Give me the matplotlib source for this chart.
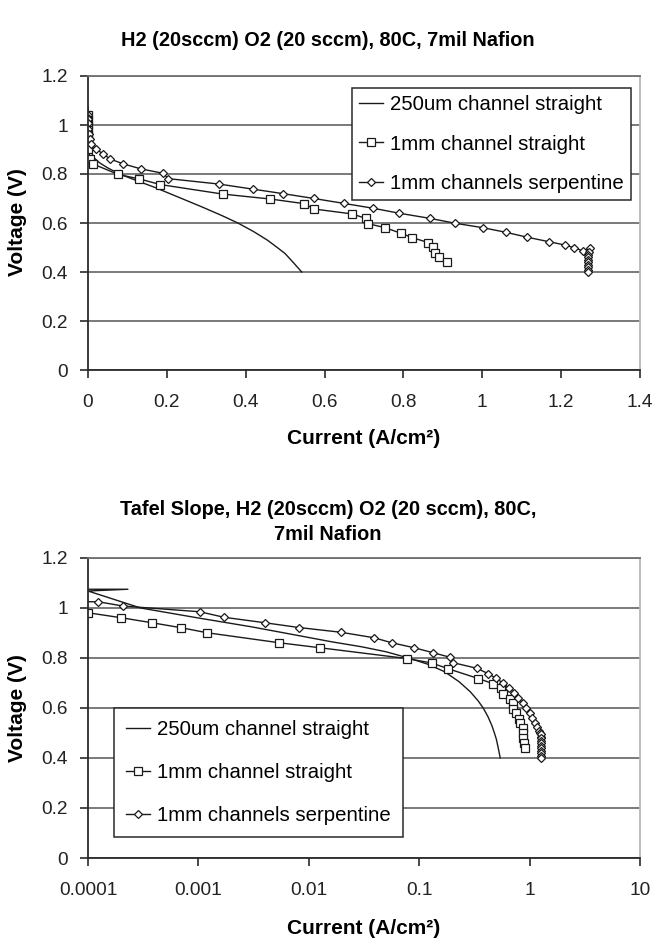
import matplotlib
matplotlib.use("Agg")
import matplotlib.pyplot as plt
from matplotlib.ticker import FixedLocator, FixedFormatter, NullLocator

plt.rcParams['font.family'] = ['Liberation Sans', 'DejaVu Sans']

# ---------------- data ----------------
# 250um channel straight (current A/cm2, voltage V)
i_250 = [0.0, 0.00023, 0.0001, 0.0003, 0.001, 0.003, 0.008, 0.016, 0.03, 0.05,
         0.08, 0.12, 0.17, 0.23, 0.29, 0.34, 0.38, 0.42, 0.455, 0.48, 0.50, 0.52, 0.542]
v_250 = [1.075, 1.075, 1.068, 1.0, 0.96, 0.925, 0.89, 0.865, 0.845, 0.825,
         0.80, 0.775, 0.745, 0.705, 0.665, 0.63, 0.60, 0.565, 0.53, 0.50, 0.475, 0.44, 0.40]

# 1mm channel straight
i_1mm = [0.0, 0.0, 0.0, 0.0001, 0.0002, 0.00038, 0.0007, 0.0012, 0.0054, 0.0126,
         0.077, 0.13, 0.183, 0.342, 0.462, 0.548, 0.574, 0.67, 0.704, 0.711,
         0.753, 0.794, 0.823, 0.863, 0.876, 0.880, 0.891, 0.910]
v_1mm = [1.04, 1.02, 1.0, 0.981, 0.961, 0.941, 0.921, 0.901, 0.861, 0.841,
         0.798, 0.78, 0.757, 0.718, 0.698, 0.679, 0.657, 0.637, 0.619, 0.597,
         0.581, 0.558, 0.540, 0.520, 0.501, 0.479, 0.460, 0.440]

# 1mm channels serpentine
i_serp = [0.0, 0.0, 0.000124, 0.000206, 0.00103, 0.0017, 0.004, 0.0081, 0.0195, 0.039,
          0.0563, 0.09, 0.134, 0.19, 0.204, 0.332, 0.419, 0.494, 0.573, 0.649,
          0.724, 0.789, 0.867, 0.931, 1.001, 1.060, 1.114, 1.168, 1.210, 1.233,
          1.256, 1.273, 1.270, 1.269, 1.268, 1.268, 1.267, 1.267, 1.267, 1.267, 1.267]
v_serp = [1.04, 1.03, 1.025, 1.008, 0.985, 0.963, 0.941, 0.922, 0.903, 0.881,
          0.861, 0.841, 0.821, 0.803, 0.781, 0.759, 0.738, 0.720, 0.700, 0.680,
          0.660, 0.640, 0.619, 0.599, 0.581, 0.562, 0.542, 0.524, 0.510, 0.499,
          0.486, 0.497, 0.48, 0.47, 0.46, 0.45, 0.44, 0.43, 0.42, 0.41, 0.40]

series_labels = ["250um channel straight", "1mm channel straight", "1mm channels serpentine"]

y_ticks = [0, 0.2, 0.4, 0.6, 0.8, 1.0, 1.2]
y_tick_labels = ["0", "0.2", "0.4", "0.6", "0.8", "1", "1.2"]
x_ticks_lin = [0, 0.2, 0.4, 0.6, 0.8, 1.0, 1.2, 1.4]
x_tick_labels_lin = ["0", "0.2", "0.4", "0.6", "0.8", "1", "1.2", "1.4"]
x_ticks_log = [0.0001, 0.001, 0.01, 0.1, 1, 10]
x_tick_labels_log = ["0.0001", "0.001", "0.01", "0.1", "1", "10"]

title_top = "H2 (20sccm) O2 (20 sccm), 80C, 7mil Nafion"
title_bot = "Tafel Slope, H2 (20sccm) O2 (20 sccm), 80C,\n7mil Nafion"
xlabel = "Current (A/cm²)"
ylabel = "Voltage (V)"

# ---------------- figure ----------------
W, H = 653, 938
fig = plt.figure(figsize=(W / 100, H / 100), dpi=100)

def ax_rect(l, r, t, b):
    return [l / W, 1 - b / H, (r - l) / W, (b - t) / H]

ax1 = fig.add_axes(ax_rect(88, 640, 76, 370))
ax2 = fig.add_axes(ax_rect(88, 640, 558, 858))

line_col = '#1a1a1a'
grid_col = '#707070'
tick_fs = 13.7

def style(ax):
    ax.set_ylim(0, 1.2)
    ax.yaxis.set_major_locator(FixedLocator(y_ticks))
    ax.yaxis.set_major_formatter(FixedFormatter(y_tick_labels))
    ax.yaxis.set_minor_locator(NullLocator())
    ax.xaxis.set_minor_locator(NullLocator())
    ax.grid(axis='y', color=grid_col, linewidth=1.3)
    ax.set_axisbelow(True)
    for s in ['left', 'bottom']:
        ax.spines[s].set_color('#2a2a2a')
        ax.spines[s].set_linewidth(1.3)
    ax.spines['top'].set_color(grid_col)
    ax.spines['top'].set_linewidth(1.3)
    ax.spines['right'].set_color('#b8b8b8')
    ax.spines['right'].set_linewidth(1.3)
    ax.tick_params(axis='both', direction='out', length=6, width=1.2,
                   color='#2a2a2a', labelsize=tick_fs, labelcolor='#222222')
    ax.tick_params(axis='x', pad=11.5)
    ax.tick_params(axis='y', pad=8.5)

def draw(ax):
    ax.plot(i_250, v_250, color=line_col, lw=1.0, label=series_labels[0])
    ax.plot(i_1mm, v_1mm, color=line_col, lw=1.0, marker='s', markersize=5.4,
            markerfacecolor='white', markeredgecolor=line_col, markeredgewidth=0.9,
            label=series_labels[1])
    ax.plot(i_serp, v_serp, color=line_col, lw=1.0, marker='D', markersize=4.2,
            markerfacecolor='white', markeredgecolor=line_col, markeredgewidth=0.9,
            label=series_labels[2])

# top: linear
draw(ax1)
style(ax1)
ax1.set_xlim(0, 1.4)
ax1.xaxis.set_major_locator(FixedLocator(x_ticks_lin))
ax1.xaxis.set_major_formatter(FixedFormatter(x_tick_labels_lin))

# bottom: log
draw(ax2)
ax2.set_xscale('log', nonpositive='clip')
style(ax2)
ax2.set_xlim(0.0001, 10)
ax2.xaxis.set_major_locator(FixedLocator(x_ticks_log))
ax2.xaxis.set_major_formatter(FixedFormatter(x_tick_labels_log))
ax2.xaxis.set_minor_locator(NullLocator())

leg_kw = dict(fontsize=14.7, frameon=True, fancybox=False, numpoints=1,
              handlelength=1.15, handletextpad=0.35, borderaxespad=0.0,
              edgecolor='#2a2a2a', facecolor='white', framealpha=1.0)

l1 = ax1.legend(loc='upper left', bbox_to_anchor=((352 - 88) / 552, (370 - 88) / 294),
                labelspacing=1.0, borderpad=0.35, **leg_kw)
l1.get_frame().set_linewidth(1.1)
l2 = ax2.legend(loc='upper left', bbox_to_anchor=((114 - 88) / 552, (858 - 708) / 300),
                labelspacing=1.17, borderpad=0.6, **leg_kw)
l2.get_frame().set_linewidth(1.1)

# titles
fig.text(328 / W, 1 - 40 / H, title_top, ha='center', va='center',
         fontsize=14.3, fontweight='bold')
fig.text(328 / W, 1 - 522 / H, title_bot, ha='center', va='center',
         fontsize=14.3, fontweight='bold', linespacing=1.45)

# axis labels
for yc in (438, 928):
    fig.text(364 / W, 1 - yc / H, xlabel, ha='center', va='center',
             fontsize=15, fontweight='bold')
for yc in (222, 708):
    fig.text(18 / W, 1 - yc / H, ylabel, rotation=90, ha='center', va='center',
             fontsize=15, fontweight='bold')

fig.savefig("out.png", dpi=100)
